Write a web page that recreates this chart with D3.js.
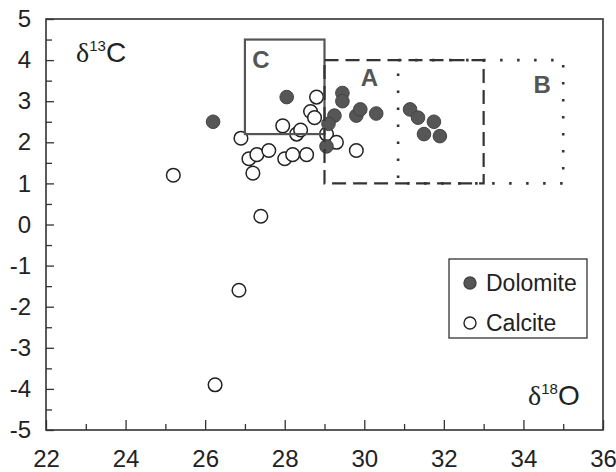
<!DOCTYPE html>
<html>
<head>
<meta charset="utf-8">
<script src="https://cdn.jsdelivr.net/npm/d3@7"></script>
<style>
    body { margin: 0; background: #fff; }
    svg { display: block; }
    .tick text { font-family: 'Liberation Sans', Arial, sans-serif; fill: #222; }
</style>
</head>
<body>
<div id="chart"></div>
<script>
'use strict';

// delta 18O / delta 13C values
var dolomiteX = [26.2, 28.05, 29.45, 29.45, 29.25, 29.1, 29.05, 29.8, 29.9, 30.3, 31.15, 31.35, 31.75, 31.5, 31.9];
var dolomiteY = [2.5, 3.1, 3.2, 3.0, 2.65, 2.45, 1.9, 2.65, 2.8, 2.7, 2.8, 2.6, 2.5, 2.2, 2.15];

var calciteX = [25.2, 26.9, 27.1, 27.3, 27.6, 27.2, 27.95, 28.0, 28.2, 28.55, 28.3, 28.4, 28.65, 28.75, 28.8, 29.05, 29.3, 29.8, 27.4, 26.85, 26.25];
var calciteY = [1.2, 2.1, 1.6, 1.7, 1.8, 1.25, 2.4, 1.6, 1.7, 1.7, 2.2, 2.3, 2.75, 2.6, 3.1, 2.2, 2.0, 1.8, 0.2, -1.6, -3.9];

// fields A, B, C
var fieldNames = ['C', 'A', 'B'];
var fieldX0 = [27, 29, 30.85];
var fieldX1 = [29, 33, 35];
var fieldY0 = [2.2, 1, 1];
var fieldY1 = [4.5, 4, 4];

var xTicks = [22, 24, 26, 28, 30, 32, 34, 36];
var xMinor = [23, 25, 27, 29, 31, 33, 35];
var yTicks = [-5, -4, -3, -2, -1, 0, 1, 2, 3, 4, 5];
var yMinor = [-4.5, -3.5, -2.5, -1.5, -0.5, 0.5, 1.5, 2.5, 3.5, 4.5];

var legendNames = ['Dolomite', 'Calcite'];

var width = 616, height = 472;
var plotLeft = 46, plotRight = 603, plotTop = 19, plotBottom = 430;

var svg = d3.select('#chart').append('svg')
    .attr('width', width)
    .attr('height', height);

var x = d3.scaleLinear().domain([22, 36]).range([plotLeft, plotRight]);
var y = d3.scaleLinear().domain([-5, 5]).range([plotBottom, plotTop]);

//plain hyphen for negatives, like the original
var fmt = function(d) { return String(d); };

//axes, ticks pointing inwards
svg.append('g').attr('transform', 'translate(0,' + plotBottom + ')')
    .call(d3.axisBottom(x).tickValues(xTicks).tickSize(-10).tickPadding(20).tickFormat(fmt));
svg.append('g').attr('transform', 'translate(0,' + plotBottom + ')')
    .call(d3.axisBottom(x).tickValues(xMinor).tickSize(-6).tickFormat(''));
svg.append('g').attr('transform', 'translate(' + plotLeft + ',0)')
    .call(d3.axisLeft(y).tickValues(yTicks).tickSize(-8).tickPadding(15).tickFormat(fmt));
svg.append('g').attr('transform', 'translate(' + plotLeft + ',0)')
    .call(d3.axisLeft(y).tickValues(yMinor).tickSize(-6).tickFormat(''));

svg.selectAll('.domain').remove();
svg.selectAll('.tick line').attr('stroke', '#333').attr('stroke-width', 1.3);
svg.selectAll('.tick text').attr('font-size', '24px');

//frame
svg.append('rect')
    .attr('x', plotLeft).attr('y', plotTop)
    .attr('width', plotRight - plotLeft).attr('height', plotBottom - plotTop)
    .attr('fill', 'none')
    .attr('stroke', '#333')
    .attr('stroke-width', 1.6);

//points
var dolomite = dolomiteX.map(function(d, i) { return [d, dolomiteY[i]]; });
var calcite = calciteX.map(function(d, i) { return [d, calciteY[i]]; });

svg.append('g').selectAll('circle')
    .data(calcite)
    .enter().append('circle')
    .attr('cx', function(d) { return x(d[0]); })
    .attr('cy', function(d) { return y(d[1]); })
    .attr('r', 6.8)
    .attr('fill', '#fff')
    .attr('stroke', '#222')
    .attr('stroke-width', 1.5);

svg.append('g').selectAll('circle')
    .data(dolomite)
    .enter().append('circle')
    .attr('cx', function(d) { return x(d[0]); })
    .attr('cy', function(d) { return y(d[1]); })
    .attr('r', 6.8)
    .attr('fill', '#565656')
    .attr('stroke', '#444')
    .attr('stroke-width', 1);

//field boxes
var dashes = { C: null, A: '14,7', B: '2.5,14.5' };
var fields = fieldNames.map(function(n, i) {
    return { name: n, x0: fieldX0[i], x1: fieldX1[i], y0: fieldY0[i], y1: fieldY1[i] };
});

svg.append('g').selectAll('rect')
    .data(fields)
    .enter().append('rect')
    .attr('x', function(d) { return x(d.x0); })
    .attr('y', function(d) { return y(d.y1); })
    .attr('width', function(d) { return x(d.x1) - x(d.x0); })
    .attr('height', function(d) { return y(d.y0) - y(d.y1); })
    .attr('fill', 'none')
    .attr('stroke', function(d) { return d.name === 'C' ? '#555' : '#333'; })
    .attr('stroke-width', function(d) { return d.name === 'B' ? 2.6 : 2.2; })
    .attr('stroke-dasharray', function(d) { return dashes[d.name]; });

//field letters, offsets from the box corners
var letterPos = {
    C: function(d) { return [x(d.x0) + 16, y(d.y1) + 28]; },
    A: function(d) { return [x(d.x0) + 45, y(d.y1) + 26]; },
    B: function(d) { return [x(d.x1) - 21, y(d.y1) + 33]; }
};
svg.append('g').selectAll('text')
    .data(fields)
    .enter().append('text')
    .attr('x', function(d) { return letterPos[d.name](d)[0]; })
    .attr('y', function(d) { return letterPos[d.name](d)[1]; })
    .attr('text-anchor', 'middle')
    .attr('font-family', "'Liberation Sans', Arial, sans-serif")
    .attr('font-weight', 'bold')
    .attr('font-size', '24px')
    .attr('fill', '#555')
    .text(function(d) { return d.name; });

//axis titles: serif delta, sans letter
function deltaLabel(px, py, sup, letter) {
    var t = svg.append('text')
        .attr('x', px).attr('y', py)
        .attr('fill', '#222')
        .attr('font-size', '28px');
    t.append('tspan').attr('font-family', "'Liberation Serif', 'Times New Roman', serif").text('\u03b4');
    t.append('tspan').attr('font-family', "'Liberation Sans', Arial, sans-serif")
        .attr('font-size', '15px').attr('dy', -11).text(sup);
    t.append('tspan').attr('font-family', "'Liberation Sans', Arial, sans-serif")
        .attr('dy', 11).text(letter);
}
deltaLabel(76, 62, '13', 'C');
deltaLabel(528, 405, '18', 'O');

//legend
var legend = svg.append('g').attr('transform', 'translate(449,259)');
legend.append('rect')
    .attr('width', 138).attr('height', 79)
    .attr('fill', '#fff')
    .attr('stroke', '#333')
    .attr('stroke-width', 1.3);

var items = legend.selectAll('.item')
    .data(legendNames)
    .enter().append('g')
    .attr('class', 'item')
    .attr('transform', function(d, i) { return 'translate(21,' + (24 + i * 40) + ')'; });

items.append('circle')
    .attr('r', 6)
    .attr('fill', function(d, i) { return i === 0 ? '#565656' : '#fff'; })
    .attr('stroke', function(d, i) { return i === 0 ? '#444' : '#222'; })
    .attr('stroke-width', 1.4);

items.append('text')
    .attr('x', 16)
    .attr('y', 8)
    .attr('font-family', "'Liberation Sans', Arial, sans-serif")
    .attr('font-size', '23px')
    .attr('fill', '#222')
    .text(function(d) { return d; });
</script>
</body>
</html>
